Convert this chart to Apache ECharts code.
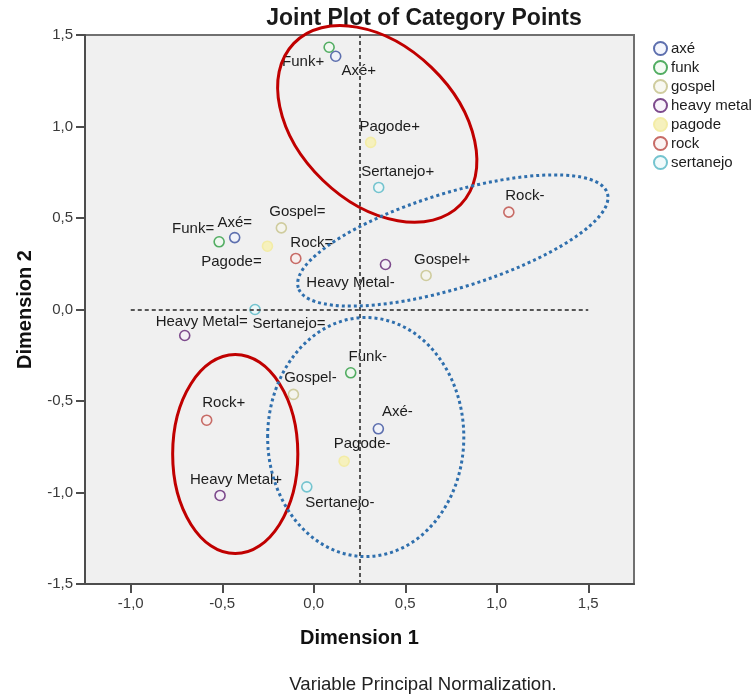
<!DOCTYPE html>
<html>
<head>
<meta charset="utf-8">
<script src="https://cdn.jsdelivr.net/npm/echarts@6/dist/echarts.min.js"></script>
<style>html,body{margin:0;padding:0;background:#fff}#c{width:756px;height:694px}</style>
</head>
<body>
<div id="c"></div>
<script>
// ---- data ----
const categories = ['axé', 'funk', 'gospel', 'heavy metal', 'pagode', 'rock', 'sertanejo'];
const axe        = [[0.120, 1.384, 'Axé+'], [-0.432, 0.393, 'Axé='], [0.353, -0.652, 'Axé-']];
const funk       = [[0.084, 1.433, 'Funk+'], [-0.517, 0.370, 'Funk='], [0.202, -0.346, 'Funk-']];
const gospel     = [[0.614, 0.186, 'Gospel+'], [-0.177, 0.446, 'Gospel='], [-0.111, -0.464, 'Gospel-']];
const heavyMetal = [[-0.512, -1.016, 'Heavy Metal+'], [-0.705, -0.142, 'Heavy Metal='], [0.392, 0.246, 'Heavy Metal-']];
const pagode     = [[0.311, 0.913, 'Pagode+'], [-0.253, 0.346, 'Pagode='], [0.166, -0.829, 'Pagode-']];
const rock       = [[-0.585, -0.605, 'Rock+'], [-0.098, 0.279, 'Rock='], [1.066, 0.532, 'Rock-']];
const sertanejo  = [[0.355, 0.667, 'Sertanejo+'], [-0.321, 0.000, 'Sertanejo='], [-0.038, -0.969, 'Sertanejo-']];
const xTicks = [-1.0, -0.5, 0.0, 0.5, 1.0, 1.5];
const yTicks = [-1.5, -1.0, -0.5, 0.0, 0.5, 1.0, 1.5];
const refX = 0.25;            // vertical reference line
const refYSpan = [-1.0, 1.5]; // horizontal reference line at y = 0
// hand-drawn annotation ellipses: [cx, cy, rx, ry, rotationDeg]
const redRings  = [[0.347, 1.014, 0.634, 0.428, -44], [-0.429, -0.790, 0.342, 0.544, 0]];
const blueRings = [[0.760, 0.377, 0.883, 0.260, 17], [0.284, -0.697, 0.536, 0.653, 0]];

// ---- styling ----
const groups = [axe, funk, gospel, heavyMetal, pagode, rock, sertanejo];
const strokes = ['#5d6fae', '#52ad62', '#cfcc9e', '#7d4a8c', '#f3eca6', '#c76b66', '#74c4cf'];
const fills   = ['rgba(240,242,252,0.7)', 'rgba(240,250,240,0.7)', 'rgba(245,245,235,0.7)', 'rgba(245,238,248,0.7)', '#f6f1bd', 'rgba(250,238,236,0.7)', 'rgba(235,248,250,0.7)'];
const labelOffsets = {
  'Funk+': [-26, 15], 'Axé+': [23, 15], 'Pagode+': [19, -16], 'Sertanejo+': [19, -16],
  'Rock-': [16, -16], 'Gospel+': [16, -16], 'Heavy Metal-': [-35, 18], 'Gospel=': [16, -16],
  'Funk=': [-26, -13], 'Axé=': [0, -15], 'Pagode=': [-36, 16], 'Rock=': [16, -16],
  'Heavy Metal=': [17, -14], 'Sertanejo=': [34, 14], 'Funk-': [17, -16], 'Gospel-': [17, -17],
  'Rock+': [17, -17], 'Axé-': [19, -17], 'Pagode-': [18, -17], 'Heavy Metal+': [16, -16],
  'Sertanejo-': [33, 16]
};
const FONT = "'Liberation Sans', Arial, sans-serif";
const fmt = v => v.toFixed(1).replace('.', ',');

const chart = echarts.init(document.getElementById('c'), null, {renderer: 'canvas'});

const pointSeries = categories.map((name, i) => ({
  name,
  type: 'scatter',
  symbol: 'circle',
  symbolSize: 10,
  z: 3,
  itemStyle: {color: fills[i], borderColor: strokes[i], borderWidth: 1.6, opacity: 1},
  label: {show: true, position: 'inside', fontFamily: FONT, fontSize: 15, color: '#1c1c1c',
          formatter: p => p.name},
  emphasis: {disabled: true},
  data: groups[i].map(d => ({value: [d[0], d[1]], name: d[2], label: {offset: labelOffsets[d[2]]}}))
}));

function ringSeries(rings, style) {
  return {
    type: 'custom',
    z: 10,
    silent: true,
    clip: false,
    data: rings,
    renderItem: (params, api) => {
      const c = api.coord([api.value(0), api.value(1)]);
      const s0 = api.coord([api.value(0) + api.value(2), api.value(1)]);
      const s1 = api.coord([api.value(0), api.value(1) + api.value(3)]);
      return {
        type: 'ellipse',
        x: c[0], y: c[1],
        rotation: api.value(4) * Math.PI / 180,
        shape: {cx: 0, cy: 0, rx: Math.abs(s0[0] - c[0]), ry: Math.abs(s1[1] - c[1])},
        style: Object.assign({fill: 'none'}, style)
      };
    }
  };
}

const option = {
  animation: false,
  backgroundColor: '#ffffff',
  title: [
    {text: 'Joint Plot of Category Points', left: 419, top: 2, textAlign: 'center',
     textStyle: {fontFamily: FONT, fontSize: 23, fontWeight: 'bold', color: '#1a1a1a'}},
    {text: 'Variable Principal Normalization.', left: 418, top: 670, textAlign: 'center',
     textStyle: {fontFamily: FONT, fontSize: 18.6, fontWeight: 'normal', color: '#222'}}
  ],
  legend: {
    orient: 'vertical', left: 648, top: 36,
    data: categories, icon: 'circle', itemWidth: 13, itemHeight: 13, itemGap: 4,
    selectedMode: false,
    textStyle: {fontFamily: FONT, fontSize: 15, color: '#1c1c1c', padding: [0, 0, 0, -1]}
  },
  grid: {left: 85, top: 35, width: 549, height: 549, show: true,
         backgroundColor: '#f0f0f0', borderColor: '#707070', borderWidth: 2},
  xAxis: {
    type: 'value', min: -1.25, max: 1.75,
    name: 'Dimension 1', nameLocation: 'middle', nameGap: 44,
    nameTextStyle: {fontFamily: FONT, fontSize: 20, fontWeight: 'bold', color: '#111'},
    axisLine: {show: true, onZero: false, lineStyle: {color: '#4d4d4d', width: 2}},
    axisTick: {show: true, length: 9, customValues: xTicks, lineStyle: {color: '#4d4d4d', width: 2}},
    axisLabel: {customValues: xTicks, margin: 12, formatter: fmt, fontFamily: FONT, fontSize: 15, color: '#3a3a3a'},
    splitLine: {show: false}
  },
  yAxis: {
    type: 'value', min: -1.5, max: 1.5, interval: 0.5,
    name: 'Dimension 2', nameLocation: 'middle', nameGap: 50,
    nameTextStyle: {fontFamily: FONT, fontSize: 20, fontWeight: 'bold', color: '#111'},
    axisLine: {show: true, onZero: false, lineStyle: {color: '#4d4d4d', width: 2}},
    axisTick: {show: true, length: 9, lineStyle: {color: '#4d4d4d', width: 2}},
    axisLabel: {margin: 12, formatter: fmt, fontFamily: FONT, fontSize: 15, color: '#3a3a3a'},
    splitLine: {show: false}
  },
  series: [
    {
      type: 'scatter', data: [], silent: true, z: 2,
      markLine: {
        silent: true, symbol: 'none', animation: false,
        label: {show: false},
        lineStyle: {color: '#555', type: [4, 3], width: 2},
        data: [
          {xAxis: refX},
          [{coord: [refYSpan[0], 0]}, {coord: [refYSpan[1], 0]}]
        ]
      }
    },
    ...pointSeries,
    ringSeries(redRings, {stroke: '#c00000', lineWidth: 3}),
    ringSeries(blueRings, {stroke: '#2f6fad', lineWidth: 3, lineDash: [3, 3]})
  ]
};
chart.setOption(option);
</script>
</body>
</html>
